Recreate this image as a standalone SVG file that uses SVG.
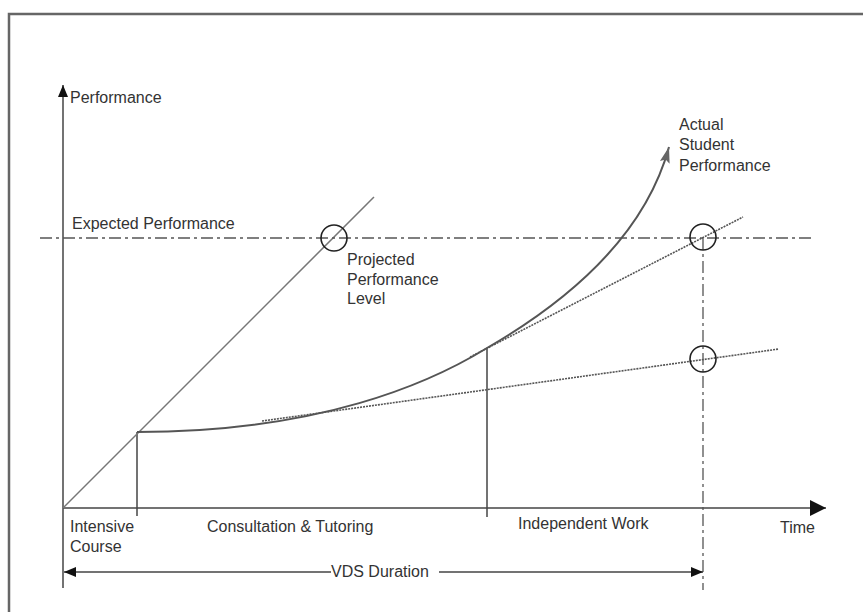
<svg xmlns="http://www.w3.org/2000/svg" width="863" height="612" viewBox="0 0 863 612">
<defs>
<style>
text{font-family:"Liberation Sans",Arial,sans-serif;font-size:16px;fill:#333}
.ax{stroke:#444;stroke-width:1.5;fill:none}
.proj{stroke:#777;stroke-width:1.5;fill:none}
.curve{stroke:#555;stroke-width:2;fill:none}
.dot{stroke:#555;stroke-width:1.6;fill:none;stroke-dasharray:2 1}
.dd{stroke:#555;stroke-width:1.3;fill:none;stroke-dasharray:12 4 3 4}
.circ{stroke:#222;stroke-width:1.6;fill:none}
</style>
<marker id="ah" markerUnits="userSpaceOnUse" markerWidth="16" markerHeight="16" viewBox="0 0 14 14" refX="14" refY="7" orient="auto"><path d="M0,0 L14,7 L0,14 z" fill="#111"/></marker>
<marker id="ahs" markerUnits="userSpaceOnUse" markerWidth="12" markerHeight="10" viewBox="0 0 12 10" refX="12" refY="5" orient="auto"><path d="M0,0 L12,5 L0,10 z" fill="#111"/></marker>
<marker id="ahg" markerUnits="userSpaceOnUse" markerWidth="16" markerHeight="12" viewBox="0 0 16 10" refX="16" refY="5" orient="auto"><path d="M0,0 L16,5 L0,10 L3,5 z" fill="#666"/></marker>
</defs>
<rect x="0" y="0" width="863" height="612" fill="#fff"/>
<rect x="9" y="14" width="880" height="640" fill="none" stroke="#666" stroke-width="2.5"/>
<g id="connectors">
<line class="ax" x1="63" y1="588" x2="63" y2="85" marker-end="url(#ahs)"/>
<line class="ax" x1="63" y1="508" x2="826" y2="508" marker-end="url(#ah)"/>
<line class="ax" x1="137" y1="432" x2="137" y2="516"/>
<line class="ax" x1="487" y1="349" x2="487" y2="517"/>
<line class="proj" x1="63" y1="508" x2="374" y2="197"/>
<line class="dd" x1="40" y1="238" x2="812" y2="238"/>
<line class="dd" x1="703" y1="238" x2="703" y2="590"/>
<line class="dot" x1="262" y1="421" x2="779" y2="349"/>
<line class="dot" x1="470" y1="357" x2="743" y2="217"/>
<path class="curve" d="M137,432 C320,432 430,383 487,348 C570,300 645,235 669,147" marker-end="url(#ahg)"/>
<line class="ax" x1="331" y1="572" x2="64" y2="572" marker-end="url(#ahs)"/>
<line class="ax" x1="439" y1="572" x2="703" y2="572" marker-end="url(#ahs)"/>
</g>
<g id="circle-projected"><circle class="circ" cx="334" cy="238" r="13"/></g>
<g id="circle-expected"><circle class="circ" cx="703" cy="237" r="13"/></g>
<g id="circle-lower"><circle class="circ" cx="703" cy="359" r="13"/></g>
<g id="label-performance"><text x="70" y="103">Performance</text></g>
<g id="label-expected"><text x="72" y="229">Expected Performance</text></g>
<g id="label-projected"><text x="347" y="265">Projected</text><text x="347" y="285">Performance</text><text x="347" y="304">Level</text></g>
<g id="label-actual"><text x="679" y="130">Actual</text><text x="679" y="150">Student</text><text x="679" y="171">Performance</text></g>
<g id="label-intensive"><text x="70" y="532">Intensive</text><text x="70" y="552">Course</text></g>
<g id="label-consultation"><text x="207" y="532">Consultation &amp; Tutoring</text></g>
<g id="label-independent"><text x="518" y="529">Independent Work</text></g>
<g id="label-time"><text x="780" y="533">Time</text></g>
<g id="label-vds"><text x="331" y="577">VDS Duration</text></g>
</svg>
